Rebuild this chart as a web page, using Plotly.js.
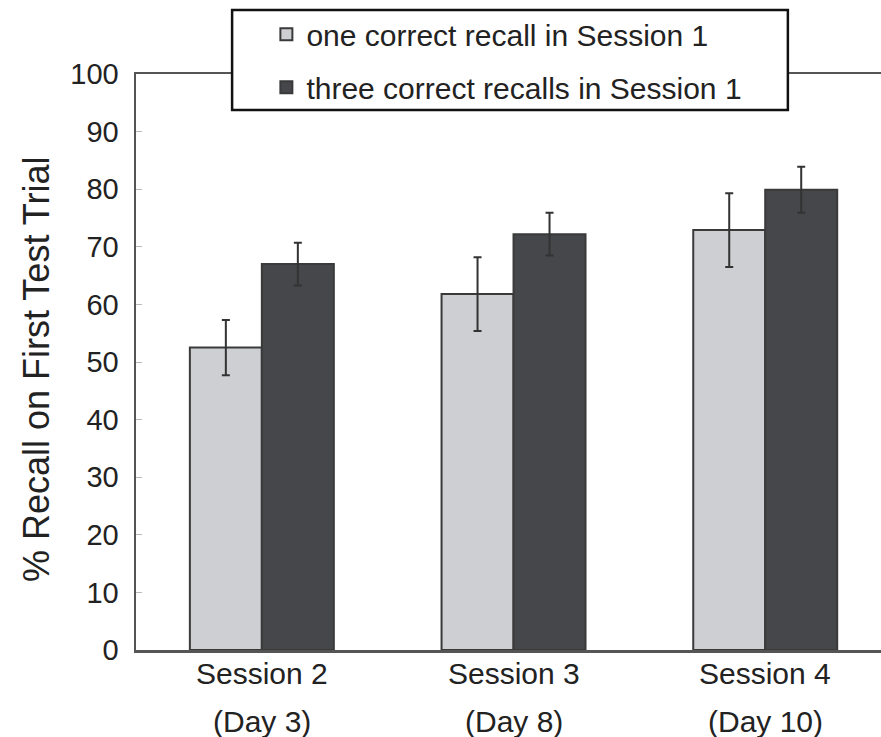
<!DOCTYPE html>
<html>
<head>
<meta charset="utf-8">
<script src="https://cdn.plot.ly/plotly-3.0.1.min.js"></script>
<style>
  html, body { margin: 0; padding: 0; background: #fff; }
  #chart { width: 881px; height: 737px; }
</style>
</head>
<body>
<div id="chart"></div>
<script>
// Recall on the first test trial, by later session and Session 1 recall count
const sessions = ['Session 2', 'Session 3', 'Session 4'];
const days = ['(Day 3)', '(Day 8)', '(Day 10)'];
const oneRecall = [52.5, 61.8, 72.9];
const oneRecallErr = [4.8, 6.4, 6.4];
const threeRecalls = [67.0, 72.2, 79.9];
const threeRecallsErr = [3.7, 3.7, 4.0];
const yTicks = [0, 10, 20, 30, 40, 50, 60, 70, 80, 90, 100];
const yTitle = '% Recall on First Test Trial';

const FONT = 'Liberation Sans, Arial, Helvetica, sans-serif';
const INK = '#222';
const EDGE = '#3a3a3a';

function barTrace(name, values, errs, fill, group) {
  return {
    type: 'bar',
    name: name,
    x: sessions,
    y: values,
    legendgroup: group,
    marker: { color: fill, line: { color: EDGE, width: 2 } },
    error_y: { type: 'data', array: errs, visible: true, color: '#333', thickness: 2, width: 4 },
    hoverinfo: 'skip'
  };
}

const traces = [
  barTrace('one correct recall in Session 1', oneRecall, oneRecallErr, '#cdcfd2', 'a'),
  barTrace('three correct recalls in Session 1', threeRecalls, threeRecallsErr, '#46474a', 'b')
];

// two-line category labels under each group, placed on the category axis
function categoryRow(texts, shift) {
  return sessions.map((s, i) => ({
    xref: 'x', yref: 'paper', x: s, y: 0,
    yanchor: 'middle', yshift: shift,
    text: texts[i], showarrow: false,
    font: { family: FONT, size: 30, color: INK }
  }));
}

const annotations = categoryRow(sessions, -23)
  .concat(categoryRow(days, -71))
  .concat([{
    xref: 'paper', yref: 'paper', x: 0, y: 0.486,
    xanchor: 'center', yanchor: 'middle', xshift: -100,
    textangle: -90, text: yTitle, showarrow: false,
    font: { family: FONT, size: 36, color: INK }
  }]);

const layout = {
  width: 881,
  height: 737,
  margin: { l: 136, r: 0, t: 74, b: 87 },
  paper_bgcolor: '#fff',
  plot_bgcolor: '#fff',
  font: { family: FONT, color: INK },
  barmode: 'group',
  bargap: 0.428,
  bargroupgap: 0,
  showlegend: true,
  legend: {
    x: 0.175, xanchor: 'left',
    y: 1.114, yanchor: 'top',
    bgcolor: 'rgba(0,0,0,0)',
    borderwidth: 0,
    traceorder: 'grouped',
    tracegroupgap: 11,
    font: { family: FONT, size: 30, color: INK }
  },
  xaxis: {
    type: 'category',
    range: [-0.5, 2.46],
    showline: true, linecolor: '#555', linewidth: 2.5,
    mirror: true,
    ticks: '', showgrid: false, zeroline: false,
    showticklabels: false
  },
  yaxis: {
    range: [0, 100],
    tickvals: yTicks,
    showline: true, linecolor: '#555', linewidth: 2.5,
    ticks: 'inside', ticklen: 6, tickcolor: '#bbb', tickwidth: 1,
    showgrid: false, zeroline: false,
    tickfont: { family: FONT, size: 29, color: INK },
    ticklabelstandoff: 9
  },
  shapes: [{
    type: 'rect', xref: 'paper', yref: 'paper', layer: 'above',
    x0: 0.129, x1: 0.875, y0: 0.9375, y1: 1.111,
    fillcolor: '#fff', line: { color: '#111', width: 2.5 }
  }],
  annotations: annotations
};

Plotly.newPlot('chart', traces, layout, { displayModeBar: false, staticPlot: true });
</script>
</body>
</html>
